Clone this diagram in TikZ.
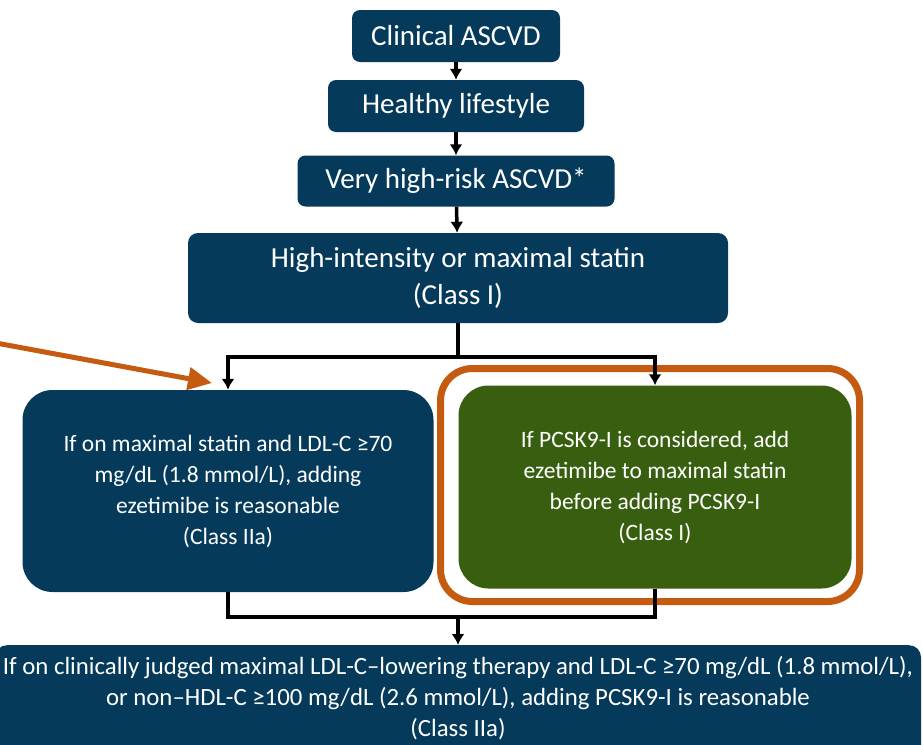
\documentclass[tikz,border=0pt]{standalone}
\usepackage{fontspec}
\setmainfont{Carlito}
\usetikzlibrary{arrows.meta,positioning}
\definecolor{navy}{HTML}{053A5A}
\definecolor{leaf}{HTML}{385E0F}
\definecolor{rust}{HTML}{C55A11}
\tikzset{
  box/.style={fill=navy,text=white,rounded corners=8pt,align=center,font=\fontsize{29}{37}\selectfont},
  wide/.style={fill=navy,text=white,rounded corners=30pt,align=center,font=\fontsize{23.5}{31}\selectfont},
  link/.style={line width=3.5pt,black},
  arr/.style={link,-{Latex[length=11pt,width=13pt]}}
}
\begin{document}
\begin{tikzpicture}[x=1pt,y=-1pt]
\useasboundingbox (0,0) rectangle (923,744);
\node[box,minimum width=208pt,minimum height=52pt] (cl) at (456,36) {Clinical ASCVD};
\node[box,minimum width=256pt,minimum height=52pt] (hl) at (456,106) {Healthy lifestyle};
\node[box,minimum width=317pt,minimum height=51pt] (vh) at (456,181) {Very high-risk ASCVD*};
\node[box,rounded corners=10pt,minimum width=540pt,minimum height=90pt] (st) at (458,278) {High-intensity or maximal statin\\(Class I)};
\node[wide,minimum width=411pt,minimum height=202pt] (lb) at (228,491) {If on maximal statin and LDL-C ≥70\\mg/dL (1.8 mmol/L), adding\\ezetimibe is reasonable\\(Class IIa)};
\node[wide,fill=leaf,minimum width=393pt,minimum height=203pt] (gb) at (655,487) {If PCSK9-I is considered, add\\ezetimibe to maximal statin\\before adding PCSK9-I\\(Class I)};
\node[draw=rust,line width=7pt,rounded corners=32pt,minimum width=419pt,minimum height=233pt] (hi) at (650,485) {};
\node[wide,rounded corners=12pt,anchor=north,minimum width=926pt,inner ysep=11pt,text depth=40pt,font=\fontsize{24.8}{31}\selectfont] (bt) at (458,645) {If on clinically judged maximal LDL-C--lowering therapy and LDL-C ≥70 mg/dL (1.8 mmol/L),\\or non--HDL-C ≥100 mg/dL (2.6 mmol/L), adding PCSK9-I is reasonable\\(Class IIa)};
% connectors
\coordinate (j1) at (458,357);
\coordinate (j2) at (458,617);
\coordinate (ptr) at (-4,343);
\draw[arr] (cl) -- (hl);
\draw[arr] (hl) -- (vh);
\draw[arr] (vh) -- (st);
\draw[link] (st.south) -- (j1);
\draw[arr] (j1) -| (lb.north);
\draw[arr] (j1) -| (gb.north);
\draw[link] (lb.south) |- (j2);
\draw[link] (gb.south) |- (j2);
\draw[arr] (j2) -- (bt.north);
\draw[rust,line width=5pt,-{Triangle[length=24pt,width=22pt]}] (ptr) -- (212,383);
\end{tikzpicture}
\end{document}
